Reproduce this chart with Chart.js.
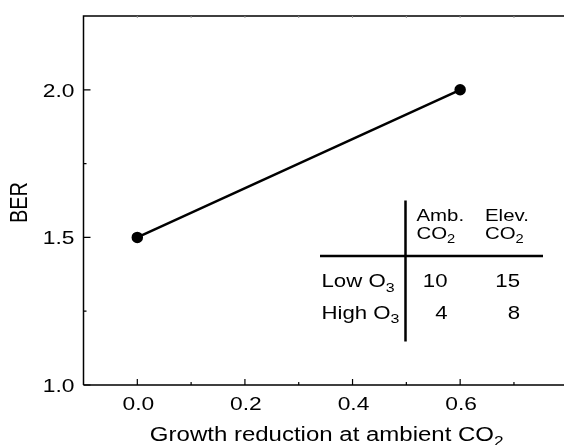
<!DOCTYPE html>
<html>
<head>
<meta charset="utf-8">
<script src="https://cdn.jsdelivr.net/npm/chart.js@4"></script>
<style>
  html, body { margin: 0; padding: 0; background: #fff; }
  #wrap { width: 571px; height: 445px; }
</style>
</head>
<body>
<div id="wrap"><canvas id="chart"></canvas></div>
<script>
// dados
const growthReduction = [0.0, 0.6];
const berValues = [1.5, 2.0];
const xTickValues = [0.0, 0.2, 0.4, 0.6];
const xMinorTicks = [0.1, 0.3, 0.5, 0.7];
const yTickValues = [1.0, 1.5, 2.0];
const yMinorTicks = [1.25, 1.75];
const xTitle = 'Growth reduction at ambient CO₂';
const yTitle = 'BER';

// tabela inserida no gráfico
const tableColHeaders = ['Amb.', 'Elev.'];
const tableColSub = ['CO₂', 'CO₂'];
const tableRowLabels = ['Low O₃', 'High O₃'];
const tableValues = [[10, 15], [4, 8]];

const FONT = '"Liberation Sans", Arial, Helvetica, sans-serif';
const SX = 1.2; // a figura original tem letras mais largas
const SUBS = '₀₁₂₃₄₅₆₇₈₉';

// separa o texto em partes normais e subscritas
function segments(str) {
    const out = [];
    for (const ch of str) {
        const i = SUBS.indexOf(ch);
        const sub = i >= 0;
        const c = sub ? String(i) : ch;
        const last = out[out.length - 1];
        if (last && last.sub === sub) last.t += c;
        else out.push({ t: c, sub: sub });
    }
    return out;
}

function drawRich(ctx, str, x, y, size, align, sx) {
    const segs = segments(str);
    const fontFor = s => (s.sub ? size * 0.72 : size) + 'px ' + FONT;
    const widths = segs.map(s => { ctx.font = fontFor(s); return ctx.measureText(s.t).width * sx; });
    const total = widths.reduce((a, b) => a + b, 0);
    let cx = align === 'right' ? x - total : align === 'center' ? x - total / 2 : x;
    ctx.textAlign = 'left';
    ctx.textBaseline = 'alphabetic';
    segs.forEach((s, i) => {
        ctx.font = fontFor(s);
        ctx.save();
        ctx.translate(cx, y + (s.sub ? size * 0.27 : 0));
        ctx.scale(sx, 1);
        ctx.fillText(s.t, 0, 0);
        ctx.restore();
        cx += widths[i];
    });
}

// moldura, marcas internas, rótulos e tabela
const framePlugin = {
    id: 'frame',
    afterDraw(chart) {
        const ctx = chart.ctx;
        const { left, top, right, bottom } = chart.chartArea;
        const xs = chart.scales.x, ys = chart.scales.y;
        ctx.save();
        ctx.strokeStyle = '#000';
        ctx.lineWidth = 1.5;
        ctx.beginPath();
        ctx.moveTo(left, bottom); ctx.lineTo(left, top); ctx.lineTo(right, top);
        ctx.moveTo(left, bottom); ctx.lineTo(right, bottom);
        ctx.stroke();

        // marcas para dentro
        ctx.lineWidth = 1.2;
        ctx.beginPath();
        xTickValues.forEach(v => { const p = xs.getPixelForValue(v); ctx.moveTo(p, bottom); ctx.lineTo(p, bottom - 6); });
        xMinorTicks.forEach(v => { const p = xs.getPixelForValue(v); ctx.moveTo(p, bottom); ctx.lineTo(p, bottom - 3); });
        yTickValues.forEach(v => { const p = ys.getPixelForValue(v); ctx.moveTo(left, p); ctx.lineTo(left + 7, p); });
        yMinorTicks.forEach(v => { const p = ys.getPixelForValue(v); ctx.moveTo(left, p); ctx.lineTo(left + 3, p); });
        ctx.stroke();

        // marcas fracas no topo
        ctx.strokeStyle = '#999';
        ctx.lineWidth = 1;
        ctx.beginPath();
        xTickValues.concat(xMinorTicks).forEach(v => { const p = xs.getPixelForValue(v); ctx.moveTo(p, top); ctx.lineTo(p, top + 2); });
        ctx.stroke();

        // rótulos dos eixos
        ctx.fillStyle = '#000';
        xTickValues.forEach(v => drawRich(ctx, v.toFixed(1), xs.getPixelForValue(v) + 1, bottom + 25, 19, 'center', SX));
        yTickValues.forEach(v => drawRich(ctx, v.toFixed(1), left - 9, ys.getPixelForValue(v) + 7, 19, 'right', SX));
        drawRich(ctx, xTitle, (left + right) / 2 + 3, 441, 20, 'center', SX);
        ctx.save();
        ctx.translate(27, (top + bottom) / 2 + 2);
        ctx.rotate(-Math.PI / 2);
        ctx.scale(1, 1.15);
        drawRich(ctx, yTitle, 0, 0, 20, 'center', 1);
        ctx.restore();

        // tabela
        ctx.strokeStyle = '#000';
        ctx.lineWidth = 2.5;
        ctx.beginPath();
        ctx.moveTo(405.5, 200.5); ctx.lineTo(405.5, 341.5);
        ctx.moveTo(320, 256); ctx.lineTo(543, 256);
        ctx.stroke();

        const colLeft = [416.5, 485];
        tableColHeaders.forEach((h, i) => {
            drawRich(ctx, h, colLeft[i], 221, 17, 'left', SX);
            drawRich(ctx, tableColSub[i], colLeft[i], 238.5, 17, 'left', SX);
        });
        const rowBase = [287, 318.5];
        tableRowLabels.forEach((r, i) => drawRich(ctx, r, 321.5, rowBase[i], 18.5, 'left', SX));
        const colRight = [447.5, 520];
        tableValues.forEach((row, i) => {
            row.forEach((v, j) => drawRich(ctx, String(v), colRight[j], rowBase[i], 18.5, 'right', SX));
        });
        ctx.restore();
    }
};

new Chart(document.getElementById('chart'), {
    type: 'scatter',
    data: {
        datasets: [{
            data: growthReduction.map((x, i) => ({ x: x, y: berValues[i] })),
            showLine: true,
            borderColor: '#000',
            borderWidth: 2.5,
            backgroundColor: '#000',
            pointRadius: 4.5,
            pointHoverRadius: 4.5
        }]
    },
    options: {
        responsive: true,
        maintainAspectRatio: false,
        animation: false,
        events: [],
        layout: { padding: { top: 16, right: 0, left: 0, bottom: 0 } },
        plugins: { legend: { display: false }, tooltip: { enabled: false } },
        scales: {
            x: {
                type: 'linear',
                min: -0.1,
                max: 0.793,
                afterBuildTicks: (scale) => { scale.ticks = xTickValues.map(v => ({ value: v })); },
                afterFit: (scale) => { scale.height = 60; },
                grid: { display: false, drawTicks: false },
                border: { display: false },
                ticks: { display: false }
            },
            y: {
                type: 'linear',
                min: 1.0,
                max: 2.25,
                afterBuildTicks: (scale) => { scale.ticks = yTickValues.map(v => ({ value: v })); },
                afterFit: (scale) => { scale.width = 83.5; },
                grid: { display: false, drawTicks: false },
                border: { display: false },
                ticks: { display: false }
            }
        }
    },
    plugins: [framePlugin]
});
</script>
</body>
</html>
